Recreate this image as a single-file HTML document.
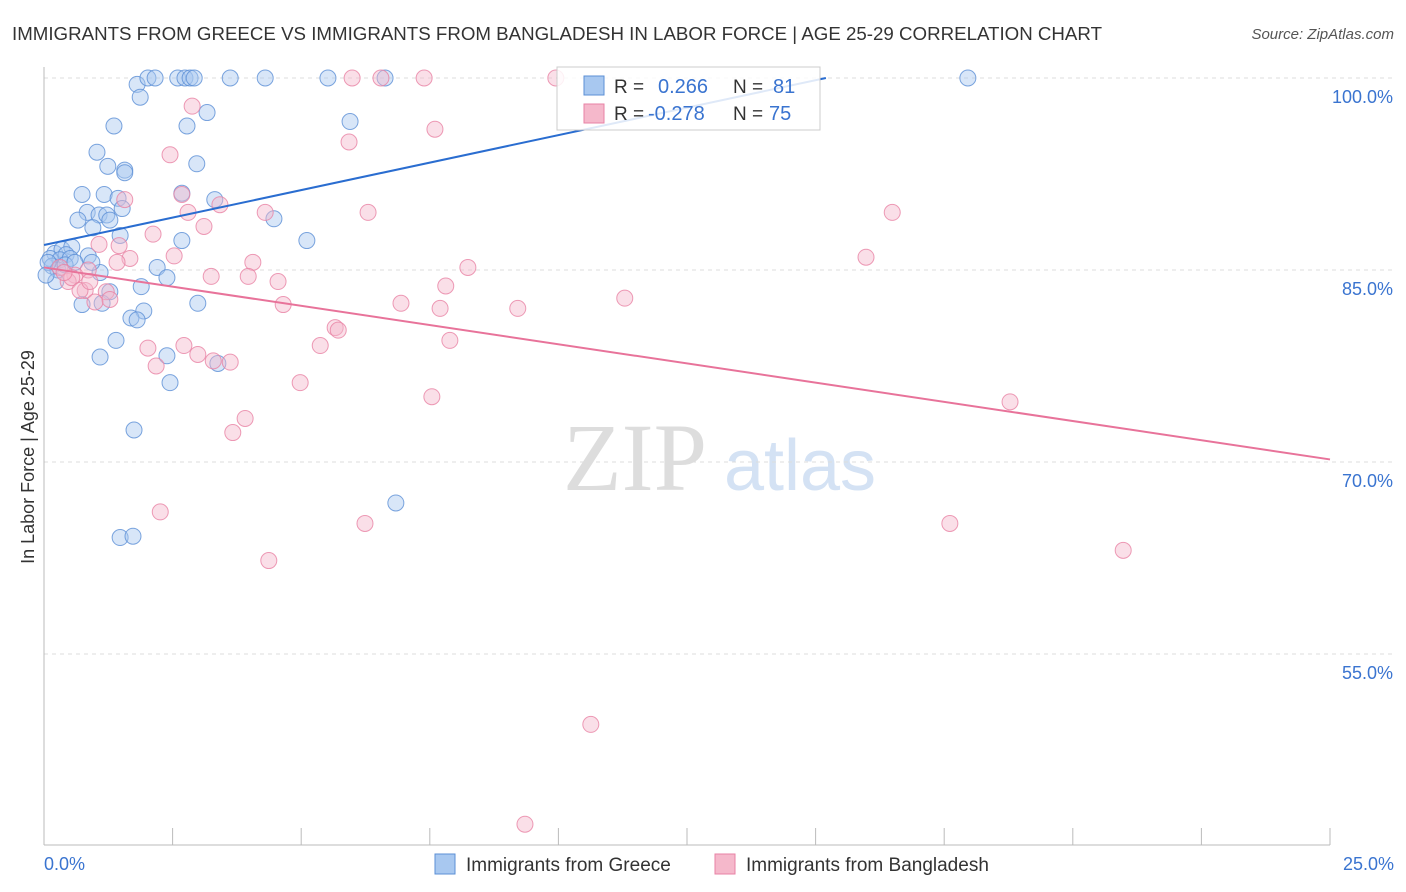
<!DOCTYPE html>
<html><head><meta charset="utf-8">
<style>
body{margin:0;background:#fff;font-family:"Liberation Sans",sans-serif;}
svg{display:block}
</style></head>
<body>
<svg id="chart" width="1406" height="892" xmlns="http://www.w3.org/2000/svg">
<text x="12" y="40" font-size="18" fill="#333" textLength="1090" lengthAdjust="spacingAndGlyphs">IMMIGRANTS FROM GREECE VS IMMIGRANTS FROM BANGLADESH IN LABOR FORCE | AGE 25-29 CORRELATION CHART</text>
<text x="1394" y="39" font-size="15" fill="#555" text-anchor="end" font-style="italic">Source: ZipAtlas.com</text>
<g>
<text x="635" y="490" font-size="96" fill="#ddd" text-anchor="middle" font-family="Liberation Serif,serif">ZIP</text>
<text x="800" y="490" font-size="72" fill="#d4e2f4" text-anchor="middle">atlas</text>
</g>
<g id="grid"></g>
<g id="axes"></g>
<g id="pts"></g>
<g id="lines"></g>
<text transform="translate(34,457) rotate(-90)" font-size="18" fill="#333" text-anchor="middle">In Labor Force | Age 25-29</text>
<text x="44" y="870" font-size="18" fill="#3a74d0">0.0%</text>
<text x="1394" y="870" font-size="18" fill="#3a74d0" text-anchor="end">25.0%</text>
<g>
<rect x="557" y="67" width="263" height="63" fill="#fff" fill-opacity="0.85" stroke="#ccc"/>
<rect x="584" y="76" width="20" height="19" fill="#a8c8f0" stroke="#5b8fd6"/>
<rect x="584" y="104" width="20" height="19" fill="#f5b8cb" stroke="#e882a4"/>
<text x="614" y="93" font-size="19" fill="#333">R =</text>
<text x="658" y="93" font-size="20" fill="#3a74d0">0.266</text>
<text x="733" y="93" font-size="19" fill="#333">N =</text>
<text x="773" y="93" font-size="20" fill="#3a74d0">81</text>
<text x="614" y="120" font-size="19" fill="#333">R =</text>
<text x="648" y="120" font-size="20" fill="#3a74d0">-0.278</text>
<text x="733" y="120" font-size="19" fill="#333">N =</text>
<text x="769" y="120" font-size="20" fill="#3a74d0">75</text>
</g>
<g>
<rect x="435" y="854" width="20" height="20" fill="#a8c8f0" stroke="#5b8fd6"/>
<text x="466" y="871" font-size="19" fill="#333">Immigrants from Greece</text>
<rect x="715" y="854" width="20" height="20" fill="#f5b8cb" stroke="#e882a4"/>
<text x="746" y="871" font-size="19" fill="#333">Immigrants from Bangladesh</text>
</g>
</svg>
<script>
const yTicks=[100,85,70,55];
const yTickLabels=["100.0%","85.0%","70.0%","55.0%"];
const xTicks=[0,2.5,5,7.5,10,12.5,15,17.5,20,22.5,25];
const greeceX=[1.81,2.02,2.16,2.60,2.74,2.84,2.92,3.62,4.30,5.52,6.63,17.96,1.87,3.17,2.78,1.36,5.95,1.03,2.97,1.24,1.57,1.57,0.74,1.17,2.68,1.44,3.32,1.52,0.84,1.07,1.22,0.66,1.28,4.47,0.95,1.48,2.68,5.11,0.21,0.35,0.54,0.43,0.12,0.31,0.51,0.86,0.16,0.27,1.09,2.20,2.39,0.23,1.28,1.89,0.74,1.13,2.99,1.94,1.69,1.81,1.40,1.09,2.39,3.38,2.45,1.75,6.84,1.48,1.73,0.08,0.41,0.04,0.60,0.93];
const greeceY=[99.5,100,100,100,100,100,100,100,100,100,100,100,98.5,97.3,96.25,96.25,96.6,94.2,93.3,93.1,92.8,92.6,90.9,90.9,91.0,90.6,90.5,89.8,89.5,89.3,89.3,88.9,88.9,89.0,88.3,87.7,87.3,87.3,86.3,86.6,86.8,86.2,85.9,85.8,85.9,86.1,85.3,85.0,84.8,85.2,84.4,84.1,83.3,83.7,82.3,82.4,82.4,81.8,81.25,81.1,79.5,78.2,78.3,77.7,76.2,72.5,66.8,64.1,64.2,85.6,85.4,84.6,85.6,85.6];
const bangX=[5.99,6.55,7.39,9.95,2.88,7.60,5.93,2.45,2.68,3.42,1.57,2.80,6.30,4.30,16.49,3.11,2.12,1.07,1.46,1.67,1.42,2.53,4.06,15.98,8.24,3.25,3.97,4.55,0.86,0.60,0.47,0.80,1.21,1.28,7.81,6.94,11.29,4.65,7.70,9.21,0.99,5.66,5.72,7.89,5.37,2.02,2.72,2.99,3.29,3.62,2.18,4.98,7.54,3.91,3.67,18.78,2.26,6.24,17.61,20.98,4.37,10.63,9.35,0.31,0.54,0.70,0.39,0.89];
const bangY=[100,100,100,100,97.8,96.0,95.0,94.0,90.9,90.1,90.5,89.5,89.5,89.5,89.5,88.4,87.8,87.0,86.9,85.9,85.6,86.1,85.6,86.0,85.2,84.5,84.5,84.1,85.0,84.6,84.1,83.4,83.3,82.7,83.75,82.4,82.8,82.3,82.0,82.0,82.5,80.5,80.3,79.5,79.1,78.9,79.1,78.4,77.9,77.8,77.5,76.2,75.1,73.4,72.3,74.7,66.1,65.2,65.2,63.1,62.3,49.5,41.7,85.2,84.4,83.4,84.8,84.1];
const greeceTrend=[0,86.95,15.2,100];
const bangTrend=[0,85.2,25,70.2];
const NS="http://www.w3.org/2000/svg";
const X=v=>44+v/25*1286;
const Y=v=>78+(100-v)*12.8;
function mk(tag,attrs,parent){const e=document.createElementNS(NS,tag);for(const k in attrs)e.setAttribute(k,attrs[k]);parent.appendChild(e);return e;}
const grid=document.getElementById('grid'),axes=document.getElementById('axes'),pts=document.getElementById('pts'),lines=document.getElementById('lines');
yTicks.forEach((t,i)=>{
 const l=mk('line',{x1:44,x2:1394,y1:Y(t),y2:Y(t),stroke:'#ddd','stroke-dasharray':'4,4'},grid);
 
 
 const tx=mk('text',{x:1393,y:Y(t)+25,'font-size':18,fill:'#3a74d0','text-anchor':'end'},grid);
 tx.textContent=yTickLabels[i];
 
 
});
const ya=mk('line',{x1:44,x2:44,y1:67,y2:845,stroke:'#bbb'},axes);


const xa=mk('line',{x1:44,x2:1330,y1:845,y2:845,stroke:'#bbb'},axes);


xTicks.forEach(t=>{
 const l=mk('line',{x1:X(t),x2:X(t),y1:828,y2:845,stroke:'#bbb'},axes);
 
 
});
function dots(xs,ys,fill,stroke,name){
 xs.forEach((x,i)=>{
  const c=mk('circle',{cx:X(x),cy:Y(ys[i]),r:8,fill:fill,'fill-opacity':0.45,stroke:stroke,'stroke-opacity':0.8,'stroke-width':1},pts);
  
  
 });
}
dots(greeceX,greeceY,'#a8c8f0','#5b8fd6','greece-point');
dots(bangX,bangY,'#f5b8cb','#e882a4','bangladesh-point');
const gl=mk('line',{x1:X(greeceTrend[0]),y1:Y(greeceTrend[1]),x2:X(greeceTrend[2]),y2:Y(greeceTrend[3]),stroke:'#2a6dd0','stroke-width':2},lines);


const bl=mk('line',{x1:X(bangTrend[0]),y1:Y(bangTrend[1]),x2:X(bangTrend[2]),y2:Y(bangTrend[3]),stroke:'#e8739a','stroke-width':2},lines);


</script>
</body></html>
